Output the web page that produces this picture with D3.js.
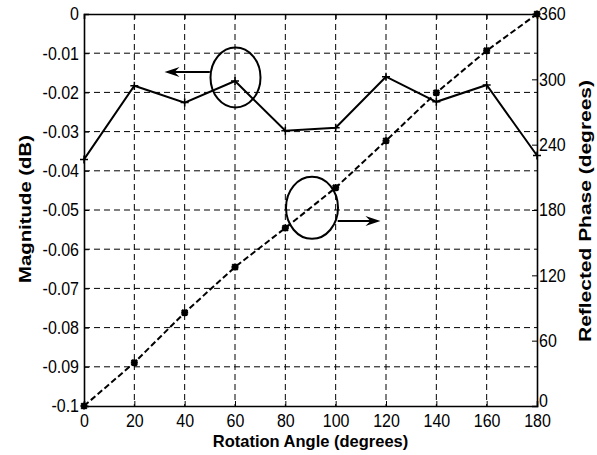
<!DOCTYPE html>
<html><head><meta charset="utf-8">
<script src="https://cdn.jsdelivr.net/npm/d3@7"></script>
<style>body{margin:0;background:#fff}svg{display:block}text{font-family:"Liberation Sans",Arial,Helvetica,sans-serif}</style>
</head><body><svg id="c" width="597" height="455"></svg>
<script>
const angles = [0, 20, 40, 60, 80, 100, 120, 140, 160, 180];
const magnitude = [-0.0371, -0.0183, -0.0226, -0.0171, -0.0298, -0.029, -0.016, -0.0224, -0.0181, -0.0361];
const phase = [0, 39.8, 85.7, 127.6, 163.5, 200.5, 243.6, 287.7, 326.3, 360];
const xTicks = [0, 20, 40, 60, 80, 100, 120, 140, 160, 180];
const magTicks = [0, -0.01, -0.02, -0.03, -0.04, -0.05, -0.06, -0.07, -0.08, -0.09, -0.1];
const phaseTicks = [0, 60, 120, 180, 240, 300, 360];
const magTickLabels = ["0","-0.01","-0.02","-0.03","-0.04","-0.05","-0.06","-0.07","-0.08","-0.09","-0.1"];

const L = 84, R = 537, T = 14, B = 406;
const svg = d3.select("#c");
const x = d3.scaleLinear().domain([0, 180]).range([L, R]);
const yM = d3.scaleLinear().domain([-0.1, 0]).range([B, T]);
const yP = d3.scaleLinear().domain([0, 360]).range([B, T]);

// grid
const g = svg.append("g").attr("stroke", "#000").attr("stroke-width", 1).attr("stroke-dasharray", "6,4");
xTicks.slice(1, -1).forEach(t => g.append("line").attr("x1", x(t)).attr("x2", x(t)).attr("y1", T).attr("y2", B));
magTicks.slice(1, -1).forEach(t => g.append("line").attr("x1", L).attr("x2", R).attr("y1", yM(t)).attr("y2", yM(t)));

// axes
const fs = 16, sy = 1.16;
const ax = svg.append("g").attr("transform", `translate(0,${B})`)
  .call(d3.axisBottom(x).tickValues(xTicks).tickSize(-5).tickPadding(7).tickFormat(d3.format("d")));
const ax2 = svg.append("g").attr("transform", `translate(0,${T})`)
  .call(d3.axisTop(x).tickValues(xTicks).tickSize(-5).tickFormat(""));
const ay = svg.append("g").attr("transform", `translate(${L},0)`)
  .call(d3.axisLeft(yM).tickValues(magTicks).tickSize(-5).tickPadding(5).tickFormat((d, i) => magTickLabels[i]));
const ay2 = svg.append("g").attr("transform", `translate(${R},0)`)
  .call(d3.axisRight(yP).tickValues(phaseTicks).tickSize(-5).tickPadding(2).tickFormat(d3.format("d")));
[ax, ax2, ay, ay2].forEach(a => {
  a.select(".domain").attr("stroke", "#000").attr("stroke-width", 1.6);
  a.selectAll(".tick line").attr("stroke", "#000");
  a.selectAll("text").attr("font-size", fs).attr("fill", "#000").style("font-family", '"Liberation Sans",Arial,sans-serif')
    .attr("transform", `scale(1,${sy})`);
});
ax.selectAll("text").attr("y", 17.8).attr("dy", 0);
ay2.selectAll(".tick").filter(d => d === 0).select("text").attr("dy", "0.32em").attr("y", -4.5);

// magnitude line
const magPts = angles.map((a, i) => [a, magnitude[i]]);
svg.append("path").datum(magPts)
  .attr("fill", "none").attr("stroke", "#000").attr("stroke-width", 2)
  .attr("d", d3.line().x(d => x(d[0])).y(d => yM(d[1])));
svg.append("g").selectAll("path").data(magPts).join("path")
  .attr("stroke", "#000").attr("stroke-width", 1.5)
  .attr("d", d => { const cx = x(d[0]), cy = yM(d[1]); return `M${cx-4},${cy}H${cx+4}M${cx},${cy-4}V${cy+4}`; });

// phase line
const phPts = angles.map((a, i) => [a, phase[i]]);
svg.append("path").datum(phPts)
  .attr("fill", "none").attr("stroke", "#000").attr("stroke-width", 2).attr("stroke-dasharray", "6,3")
  .attr("d", d3.line().x(d => x(d[0])).y(d => yP(d[1])));
svg.append("g").selectAll("path").data(phPts).join("path")
  .attr("stroke", "#000").attr("stroke-width", 2.2)
  .attr("d", d => { const cx = x(d[0]), cy = yP(d[1]), r = 3.5, q = 2.8;
    return `M${cx-r},${cy}H${cx+r}M${cx},${cy-r}V${cy+r}M${cx-q},${cy-q}L${cx+q},${cy+q}M${cx-q},${cy+q}L${cx+q},${cy-q}`; });

// annotations
const ann = svg.append("g").attr("fill", "none").attr("stroke", "#000").attr("stroke-width", 2);
ann.append("ellipse").attr("cx", x(60.2)).attr("cy", yM(-0.0162)).attr("rx", 25).attr("ry", 30);
ann.append("ellipse").attr("cx", x(90.6)).attr("cy", yP(182)).attr("rx", 26).attr("ry", 31);
function arrow(x1, x2, yy, dir) {
  ann.append("line").attr("x1", x1).attr("x2", x2 - dir * 6).attr("y1", yy).attr("y2", yy);
  svg.append("path").attr("fill", "#000")
    .attr("d", `M${x2},${yy}L${x2 - dir*15},${yy-5}L${x2 - dir*10},${yy}L${x2 - dir*15},${yy+5}Z`);
}
arrow(x(50), x(32), yM(-0.0148), -1);
arrow(x(100.8), x(117.8), yP(170), 1);

// titles
svg.append("text").attr("transform", `translate(${(L + R) / 2},447) scale(1,1.05)`).attr("text-anchor", "middle")
  .attr("font-size", 16.5).attr("font-weight", "bold").text("Rotation Angle (degrees)");
svg.append("text").attr("transform", `translate(31,209) rotate(-90)`).attr("text-anchor", "middle")
  .attr("font-size", 16.5).attr("font-weight", "bold")
  .attr("textLength", 148).attr("lengthAdjust", "spacingAndGlyphs").text("Magnitude (dB)");
svg.append("text").attr("transform", `translate(591,211) rotate(-90)`).attr("text-anchor", "middle")
  .attr("font-size", 16.5).attr("font-weight", "bold")
  .attr("textLength", 262).attr("lengthAdjust", "spacingAndGlyphs").text("Reflected Phase (degrees)");
</script></body></html>
